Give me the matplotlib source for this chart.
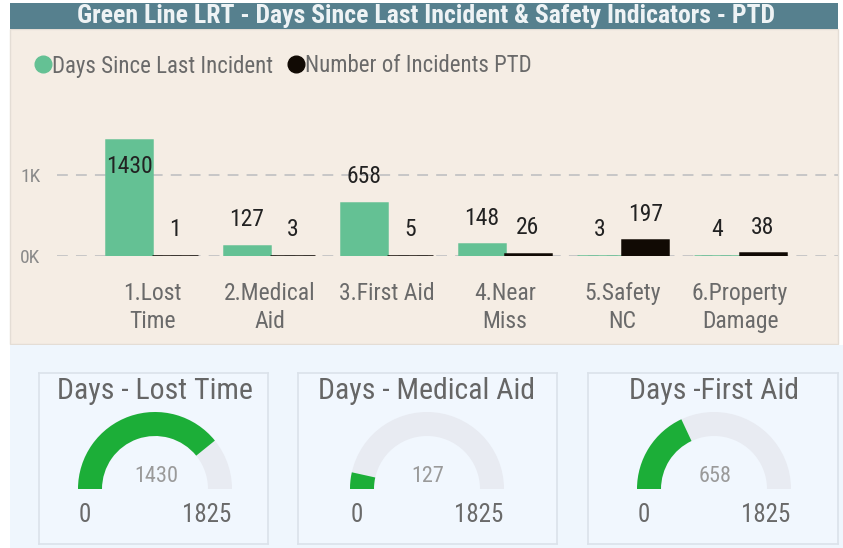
import numpy as np
import matplotlib.pyplot as plt
from matplotlib.patches import Rectangle, Wedge
from matplotlib.lines import Line2D

# data
categories = ['1.Lost\nTime', '2.Medical\nAid', '3.First Aid', '4.Near\nMiss', '5.Safety\nNC', '6.Property\nDamage']
days_since = [1430, 127, 658, 148, 3, 4]
incidents_ptd = [1, 3, 5, 26, 197, 38]
ytick_vals = [0, 1000]
ytick_labels = ['0K', '1K']

gauge_titles = ['Days - Lost Time', 'Days - Medical Aid', 'Days -First Aid']
gauge_values = [1430, 127, 658]
gauge_max = 1825

W, H = 843, 548
plt.rcParams['font.family'] = ['Roboto Condensed', 'Roboto', 'DejaVu Sans']

GREEN = '#64c194'
BLACK = '#110a04'
GAUGE_GREEN = '#1cae38'
TRACK = '#e8ebf2'


def rect(x0, y0, x1, y1):
    # pixel box (top-left origin) -> figure fraction
    return [x0 / W, 1 - y1 / H, (x1 - x0) / W, (y1 - y0) / H]


fig = plt.figure(figsize=(W / 100, H / 100), dpi=100)
fig.patch.set_facecolor('white')

# background panels
bg = fig.add_axes([0, 0, 1, 1])
bg.set_xlim(0, W)
bg.set_ylim(H, 0)
bg.axis('off')
bg.add_patch(Rectangle((10, 29), 828, 315, facecolor='#f5ede4', edgecolor='#e4ddd5', lw=1))
bg.add_patch(Rectangle((10, 345), 833, 203, facecolor='#eff6fd', edgecolor='none'))
bg.add_patch(Rectangle((10, 3), 828, 26, facecolor='#56808e', edgecolor='none'))
bg.text(426, 16.5, 'Green Line LRT - Days Since Last Incident & Safety Indicators - PTD',
        ha='center', va='center', color='#eef3f5', fontsize=18.5, fontweight='bold')

# bar chart
ax = fig.add_axes(rect(57, 100, 838, 256))
ax.patch.set_alpha(0)
x = np.arange(len(categories))
bw = 0.39
b1 = ax.bar(x - bw / 2, days_since, bw, color=GREEN, edgecolor=GREEN, lw=1.8, zorder=3)
b2 = ax.bar(x + bw / 2, incidents_ptd, bw, color=BLACK, edgecolor=BLACK, lw=1.8, zorder=3)
ax.set_xlim(-0.808, 5.833)
ax.set_ylim(0, 1926)
ax.set_yticks(ytick_vals)
ax.set_yticklabels(ytick_labels, color='#8a8a8a', fontsize=14)
ax.set_xticks(x)
ax.set_xticklabels(categories, color='#6a6a6a', fontsize=17, linespacing=1.25)
ax.tick_params(axis='both', length=0)
ax.tick_params(axis='y', pad=12)
ax.tick_params(axis='x', pad=19)
for s in ax.spines.values():
    s.set_visible(False)
ax.grid(axis='y', color='#c4c4c4', ls=(0, (6, 4.5)), lw=1.3, zorder=0)
ax.set_axisbelow(True)

off = 320
for bars, vals in ((b1, days_since), (b2, incidents_ptd)):
    for r, v in zip(bars, vals):
        ly = v + off if v + off < 1700 else v - off
        ax.text(r.get_x() + r.get_width() / 2, ly, str(v), ha='center', va='center',
                fontsize=17, color='#222222', zorder=4)

handles = [Line2D([], [], marker='o', ls='', color=GREEN, markersize=12),
           Line2D([], [], marker='o', ls='', color=BLACK, markersize=12)]
fig.legend(handles, ['Days Since Last Incident', 'Number of Incidents PTD'],
           loc='center left', bbox_to_anchor=(18 / W, 1 - 66 / H), ncol=2, frameon=False,
           handletextpad=-0.2, columnspacing=0.4, handlelength=1.2, borderpad=0,
           prop={'size': 16.5}, labelcolor='#6a6a6a')

# gauges
boxes = [(39, 268), (298, 557), (588, 838)]
centers = [155, 427, 714]
for (bx0, bx1), cx, title, val in zip(boxes, centers, gauge_titles, gauge_values):
    g = fig.add_axes(rect(bx0, 373, bx1, 544))
    g.set_xlim(bx0, bx1)
    g.set_ylim(544, 373)
    g.set_facecolor('#f1f7fe')
    for s in g.spines.values():
        s.set_color('#dbe2ea')
        s.set_linewidth(1.2)
    g.set_xticks([])
    g.set_yticks([])
    g.text(cx, 391, title, ha='center', va='center', fontsize=21.5, color='#666666')
    # y axis is flipped, so the upper half runs from 180 to 360 degrees
    ang = 180 + 180 * val / gauge_max
    g.add_patch(Wedge((cx, 489), 77, 180, 360, width=24, facecolor=TRACK, edgecolor='none'))
    g.add_patch(Wedge((cx, 489), 77, 180, ang, width=24, facecolor=GAUGE_GREEN, edgecolor='none'))
    g.text(cx + 1, 477, str(val), ha='center', va='center', fontsize=16, color='#9a9a9a')
    g.text(cx - 70, 515, '0', ha='center', va='center', fontsize=18, color='#6a6a6a')
    g.text(cx + 52, 515, str(gauge_max), ha='center', va='center', fontsize=18, color='#6a6a6a')

fig.savefig('out.png', dpi=100)
